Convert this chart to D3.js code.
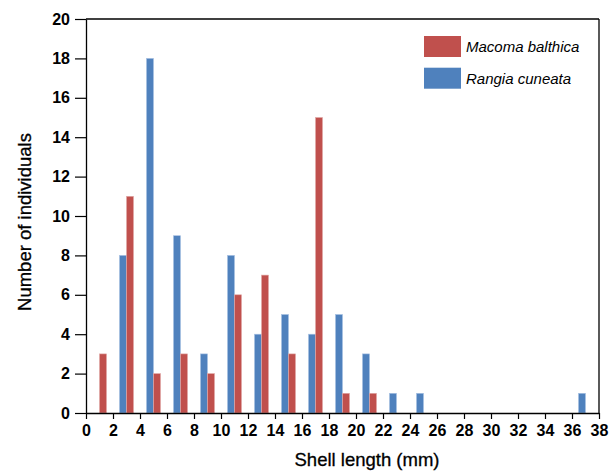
<!DOCTYPE html>
<html><head><meta charset="utf-8">
<script src="https://cdn.jsdelivr.net/npm/d3@7"></script>
<style>body{margin:0;background:#fff}</style>
</head><body>
<script>
const sizes = [1,3,5,7,9,11,13,15,17,19,21,23,25,27,29,31,33,35,37];
const macoma = [3,11,2,3,2,6,7,3,15,1,1,0,0,0,0,0,0,0,0];
const rangia = [0,8,18,9,3,8,4,5,4,5,3,1,1,0,0,0,0,0,1];
const seriesNames = ["Macoma balthica","Rangia cuneata"];
const xTicks = d3.range(0,39,2);
const yTicks = d3.range(0,21,2);

const W=610,H=471;
const m={l:86,r:11,t:19,b:58};
const svg=d3.select("body").append("svg").attr("width",W).attr("height",H);
const x=d3.scaleLinear().domain([0,38]).range([m.l,W-m.r]);
const y=d3.scaleLinear().domain([0,20]).range([H-m.b,m.t]);
const bw = x(0.52)-x(0);
const red="#c0504d", blue="#4f81bd";
const font="Liberation Sans, Arial, sans-serif";

const g=svg.append("g");
g.selectAll("rect.r").data(sizes.map((s,i)=>({s,v:rangia[i]})).filter(d=>d.v>0)).join("rect")
 .attr("x",d=>x(d.s)-bw).attr("y",d=>y(d.v)).attr("width",bw).attr("height",d=>y(0)-y(d.v))
 .attr("fill",blue).attr("stroke","#a9c1e3").attr("stroke-width",0.6);
g.selectAll("rect.m").data(sizes.map((s,i)=>({s,v:macoma[i]})).filter(d=>d.v>0)).join("rect")
 .attr("x",d=>x(d.s)).attr("y",d=>y(d.v)).attr("width",bw).attr("height",d=>y(0)-y(d.v))
 .attr("fill",red).attr("stroke","#e2aaa8").attr("stroke-width",0.6);

// frame
svg.append("line").attr("x1",x(0)).attr("x2",x(38)).attr("y1",y(20)).attr("y2",y(20)).attr("stroke","#000").attr("stroke-width",1.3);
svg.append("line").attr("x1",x(38)).attr("x2",x(38)).attr("y1",y(20)).attr("y2",y(0)).attr("stroke","#000").attr("stroke-width",1.3);

const xa=svg.append("g").attr("transform",`translate(0,${y(0)})`)
 .call(d3.axisBottom(x).tickValues(xTicks).tickSize(6).tickSizeOuter(0).tickPadding(6));
const ya=svg.append("g").attr("transform",`translate(${x(0)},0)`)
 .call(d3.axisLeft(y).tickValues(yTicks).tickSize(11).tickSizeOuter(0).tickPadding(5));
[xa,ya].forEach(a=>{
 a.select(".domain").attr("stroke","#000").attr("stroke-width",1.3);
 a.selectAll(".tick line").attr("stroke","#000").attr("stroke-width",1.2);
 a.selectAll("text").attr("font-family",font).attr("font-size",16).attr("font-weight","bold").attr("fill","#000");
});

svg.append("text").attr("x",367).attr("y",466).attr("text-anchor","middle")
 .attr("font-family",font).attr("font-size",18.5).attr("stroke","#000").attr("stroke-width",0.3).text("Shell length (mm)");
svg.append("text").attr("transform",`translate(31,222) rotate(-90)`).attr("text-anchor","middle")
 .attr("font-family",font).attr("font-size",18.5).attr("stroke","#000").attr("stroke-width",0.3).text("Number of individuals");

const leg=svg.append("g");
[red,blue].forEach((c,i)=>{
 leg.append("rect").attr("x",424).attr("y",36+i*31.7).attr("width",37).attr("height",21).attr("fill",c);
 leg.append("text").attr("x",466).attr("y",52+i*31.7).attr("font-family",font)
  .attr("font-size",15).attr("font-style","italic").text(seriesNames[i]);
});
</script>
</body></html>
